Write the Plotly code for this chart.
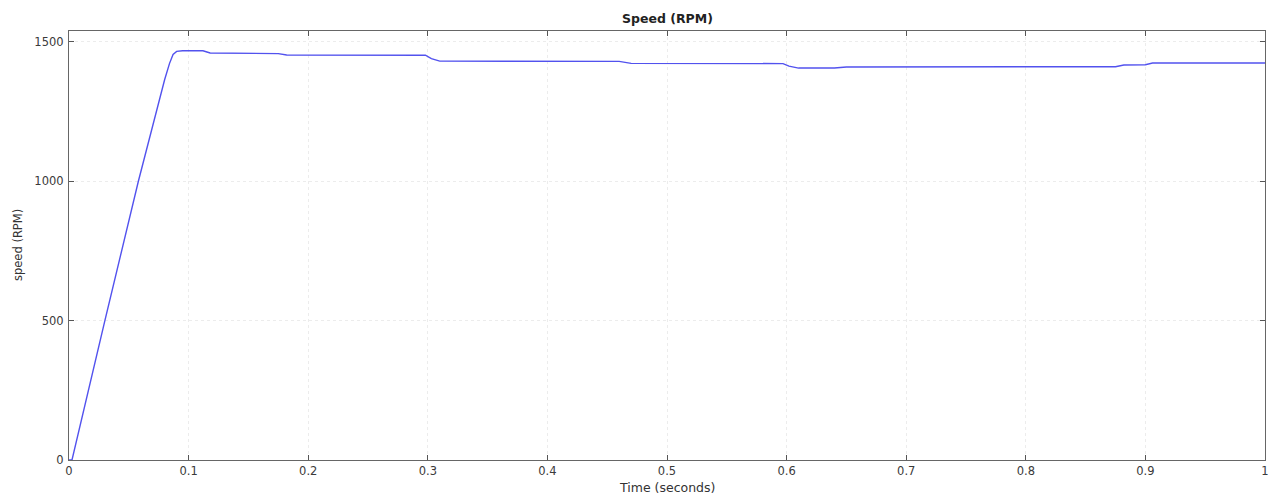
import plotly.graph_objects as go

# Data
time_s = [0.0, 0.0025, 0.030, 0.058, 0.080, 0.084, 0.087, 0.090, 0.095, 0.112, 0.118,
          0.175, 0.182, 0.298, 0.303, 0.310, 0.460, 0.470, 0.597, 0.602, 0.610,
          0.640, 0.650, 0.875, 0.882, 0.900, 0.906, 1.0]
speed_rpm = [0, 0, 500, 1000, 1365, 1422, 1455, 1466, 1468, 1468, 1460,
             1458, 1453, 1452, 1440, 1431, 1430, 1423, 1422, 1413, 1406,
             1406, 1410, 1411, 1417, 1418, 1424, 1424]

x_ticks = [0, 0.1, 0.2, 0.3, 0.4, 0.5, 0.6, 0.7, 0.8, 0.9, 1.0]
x_tick_labels = ["0", "0.1", "0.2", "0.3", "0.4", "0.5", "0.6", "0.7", "0.8", "0.9", "1"]
y_ticks = [0, 500, 1000, 1500]
y_tick_labels = ["0", "500", "1000", "1500"]

L, R, T, B = 69, 4, 31, 38
W, H = 1269, 498
plot_w = W - L - R
plot_h = H - T - B

fig = go.Figure()
fig.add_trace(go.Scatter(x=time_s, y=speed_rpm, mode="lines",
                         line=dict(color="#5252ee", width=1.4), showlegend=False))

FAM = "DejaVu Sans, Liberation Sans, Arial, sans-serif"
tick_font = dict(family=FAM, size=11.5, color="#3a3a3a")
label_font = dict(family=FAM, size=12.5, color="#333333")
axis_common = dict(showline=True, linecolor="#666666", linewidth=1.2, mirror="ticks",
                   ticks="inside", ticklen=5, tickcolor="#555555",
                   showgrid=True, gridcolor="#ececec", griddash="dot", gridwidth=1,
                   zeroline=False, tickfont=tick_font, automargin=False,
                   ticklabeloverflow="allow")

fig.update_layout(
    width=W, height=H,
    margin=dict(l=L, r=R, t=T, b=B),
    paper_bgcolor="white", plot_bgcolor="white",
    xaxis=dict(range=[0, 1], tickvals=x_ticks, ticktext=x_tick_labels, **axis_common),
    yaxis=dict(range=[0, 1539], tickvals=y_ticks, ticktext=y_tick_labels, ticklabelstandoff=2,
               **axis_common),
    annotations=[
        dict(text="<b>Speed (RPM)</b>", xref="paper", yref="paper",
             x=0.5, y=1 + (T - 18) / plot_h, xanchor="center", yanchor="middle",
             showarrow=False,
             font=dict(family=FAM, size=12.5, color="#222222")),
        dict(text="Time (seconds)", xref="paper", yref="paper",
             x=0.5, y=-(487 - (H - B)) / plot_h, xanchor="center", yanchor="middle",
             showarrow=False, font=label_font),
        dict(text="speed (RPM)", xref="paper", yref="paper",
             x=-(L - 18) / plot_w, y=1 - (245 - T) / plot_h, xanchor="center", yanchor="middle",
             textangle=-90, showarrow=False, font=dict(family=FAM, size=11.5, color="#333333")),
    ],
)

fig.write_html("out.html", config={"displayModeBar": False},
               post_script="document.body.style.margin='0';document.body.style.overflow='hidden';")
